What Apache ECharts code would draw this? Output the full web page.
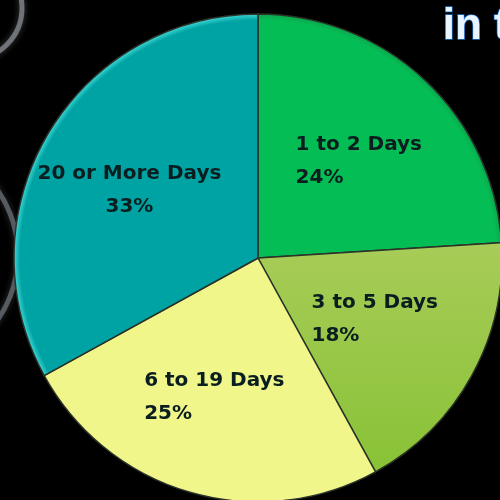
<!DOCTYPE html>
<html>
<head>
<meta charset="utf-8">
<script src="https://cdn.jsdelivr.net/npm/echarts@6/dist/echarts.min.js"></script>
<style>
  html, body { margin: 0; padding: 0; background: #000; }
  #chart { width: 500px; height: 500px; }
</style>
</head>
<body>
<div id="chart"></div>
<script>
// Share of respondents by number of days
const categories = ['1 to 2 Days', '3 to 5 Days', '6 to 19 Days', '20 or More Days'];
const shares = [24, 18, 25, 33];

// rim-shaded fill: flat colour with a thin lighter/darker band at the outer edge
function rim(base, edge) {
  return {
    type: 'radial', x: 258, y: 258, r: 244, global: true,
    colorStops: [{ offset: 0, color: base }, { offset: 0.975, color: base }, { offset: 1, color: edge }]
  };
}
const sliceColors = [
  rim('#05bd55', '#0aa84c'),
  { type: 'linear', x: 0, y: 0, x2: 0, y2: 1, colorStops: [{ offset: 0, color: '#a8cc58' }, { offset: 1, color: '#88c236' }] },
  '#f0f68a',
  rim('#00a3a3', '#3ed6d6')
];
// label alignment and nudges relative to the slice's inside anchor
const labelAlign = ['left', 'left', 'left', 'center'];
const labelNudge = [[-48, -6], [-56, 1], [-79, 19], [-21, -4]];

const chart = echarts.init(document.getElementById('chart'), null, { renderer: 'canvas' });

chart.setOption({
  backgroundColor: '#000',
  animation: false,
  graphic: [
    {
      type: 'circle', shape: { cx: -30, cy: 8, r: 52 },
      style: { fill: 'none', stroke: '#8a8f96', lineWidth: 5, opacity: 0.75, shadowBlur: 6, shadowColor: '#555' }
    },
    {
      type: 'circle', shape: { cx: -95, cy: 255, r: 113 },
      style: { fill: 'none', stroke: '#6f7780', lineWidth: 5, opacity: 0.7, shadowBlur: 6, shadowColor: '#444' }
    },
    {
      type: 'text', left: 442, top: 4,
      style: { text: 'in the', fill: '#e8f4ff', stroke: '#1d74d0', lineWidth: 1.5, font: 'bold 44px "Liberation Sans", Arial, sans-serif' }
    }
  ],
  series: [{
    type: 'pie',
    center: [258, 258],
    radius: 244,
    startAngle: 90,
    clockwise: true,
    avoidLabelOverlap: false,
    label: {
      show: true,
      position: 'inside',
      formatter: '{b}\n{d}%',
      color: '#0a1e20',
      fontFamily: 'DejaVu Sans',
      fontSize: 20,
      fontWeight: 'bold',
      lineHeight: 33
    },
    labelLine: { show: false },
    labelLayout: function (p) {
      const i = p.dataIndex;
      return { dx: labelNudge[i][0], dy: labelNudge[i][1], align: labelAlign[i] };
    },
    itemStyle: { borderColor: '#2b3328', borderWidth: 1.5 },
    emphasis: { disabled: true },
    data: categories.map((name, i) => ({
      name: name,
      value: shares[i],
      itemStyle: { color: sliceColors[i] }
    }))
  }]
});
</script>
</body>
</html>
